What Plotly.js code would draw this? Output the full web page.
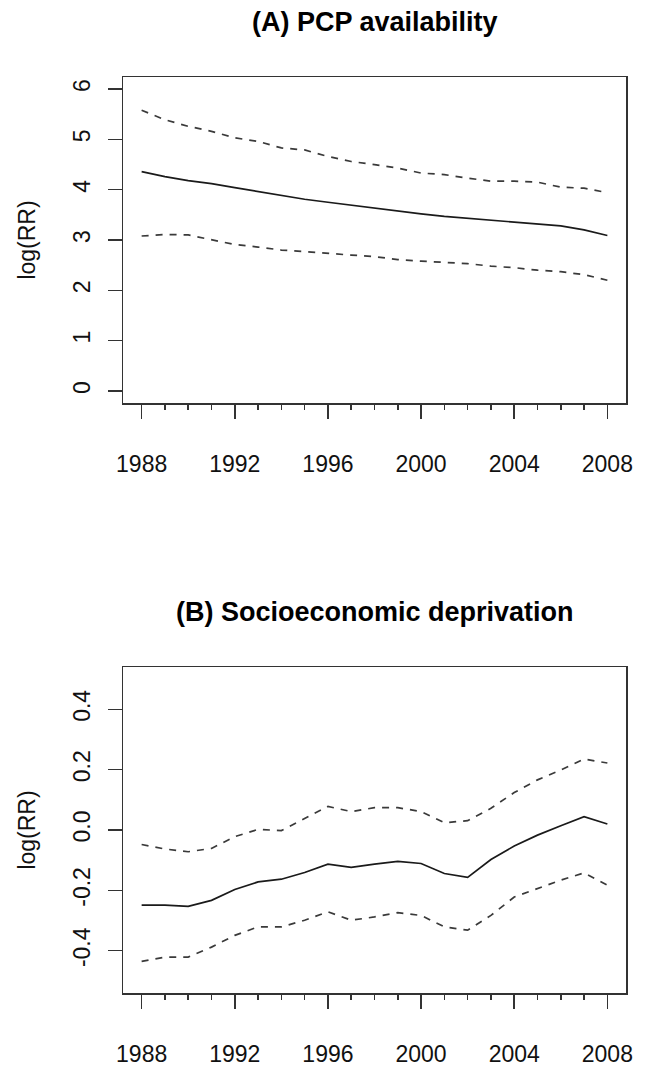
<!DOCTYPE html>
<html>
<head>
<meta charset="utf-8">
<script src="https://cdn.plot.ly/plotly-3.0.1.min.js"></script>
<style>
html,body{margin:0;padding:0;background:#fff;}
#chart{width:646px;height:1067px;}
</style>
</head>
<body>
<div id="chart"></div>
<script>
// ---- data ----
var years = [1988,1989,1990,1991,1992,1993,1994,1995,1996,1997,1998,1999,2000,2001,2002,2003,2004,2005,2006,2007,2008];

var pcpEstimate = [4.36,4.26,4.18,4.12,4.04,3.96,3.88,3.81,3.75,3.69,3.63,3.57,3.52,3.47,3.43,3.40,3.35,3.32,3.28,3.20,3.09];
var pcpUpper    = [5.58,5.39,5.26,5.16,5.03,4.96,4.83,4.79,4.66,4.56,4.50,4.43,4.33,4.30,4.23,4.17,4.17,4.15,4.05,4.03,3.94];
var pcpLower    = [3.08,3.11,3.10,3.01,2.91,2.86,2.80,2.77,2.73,2.70,2.67,2.61,2.58,2.56,2.53,2.48,2.45,2.40,2.37,2.31,2.20];

var sesEstimate = [-0.249,-0.249,-0.253,-0.233,-0.197,-0.172,-0.163,-0.141,-0.113,-0.124,-0.113,-0.104,-0.111,-0.144,-0.157,-0.098,-0.053,-0.017,0.014,0.044,0.020];
var sesUpper    = [-0.048,-0.063,-0.072,-0.061,-0.022,0.002,-0.002,0.039,0.078,0.061,0.074,0.074,0.061,0.024,0.031,0.072,0.124,0.166,0.199,0.235,0.222];
var sesLower    = [-0.435,-0.421,-0.421,-0.388,-0.349,-0.321,-0.321,-0.299,-0.271,-0.299,-0.288,-0.274,-0.283,-0.321,-0.332,-0.283,-0.222,-0.194,-0.166,-0.142,-0.183];

var xTickVals = [1988,1992,1996,2000,2004,2008];
var xTickText = ["1988","1992","1996","2000","2004","2008"];
var pcpTickVals = [0,1,2,3,4,5,6];
var pcpTickText = ["0","1","2","3","4","5","6"];
var sesTickVals = [-0.4,-0.2,0,0.2,0.4];
var sesTickText = ["-0.4","-0.2","0.0","0.2","0.4"];

var titleA = "(A) PCP availability";
var titleB = "(B) Socioeconomic deprivation";
var yTitle = "log(RR)";

// ---- styling ----
var FONT = "Liberation Sans, Arial, sans-serif";
var solid = {color:"#1a1a1a", width:1.7};
var dashed = {color:"#3a3a3a", width:1.7, dash:"7px,7px"};

function tr(x, y, line, xa, ya){
  return {x:x, y:y, type:"scatter", mode:"lines", line:line, xaxis:xa, yaxis:ya, hoverinfo:"skip", showlegend:false};
}

var data = [
  tr(years, pcpUpper, dashed, "x", "y"),
  tr(years, pcpEstimate, solid, "x", "y"),
  tr(years, pcpLower, dashed, "x", "y"),
  tr(years, sesUpper, dashed, "x2", "y2"),
  tr(years, sesEstimate, solid, "x2", "y2"),
  tr(years, sesLower, dashed, "x2", "y2")
];

var W = 646, H = 1067;
var xDom = [123/W, 626/W];

function xAxis(anchor){
  return {
    domain: xDom, anchor: anchor, range:[1987.2, 2008.8],
    tickmode:"array", tickvals: xTickVals, ticktext: xTickText,
    ticks:"outside", ticklen:14, tickwidth:1.5, tickcolor:"#333",
    minor:{dtick:1, tick0:1988, ticks:"outside", ticklen:5, tickwidth:1.5, tickcolor:"#333", showgrid:false},
    ticklabelstandoff: 26,
    showline:true, mirror:true, linecolor:"#333", linewidth:1.5,
    showgrid:false, zeroline:false,
    tickfont:{family:FONT, size:23, color:"#111"}
  };
}
function yAxis(anchor, dom, range, tv, tt){
  return {
    domain: dom, anchor: anchor, range: range,
    tickmode:"array", tickvals: tv, ticktext: tt, tickangle:-90,
    ticks:"outside", ticklen:14, tickwidth:1.5, tickcolor:"#333",
    ticklabelstandoff: 8,
    showline:true, mirror:true, linecolor:"#333", linewidth:1.5,
    showgrid:false, zeroline:false,
    tickfont:{family:FONT, size:23, color:"#111"},
    title:{text: yTitle, font:{family:FONT, size:23, color:"#111"}, standoff: 27}
  };
}

var layout = {
  width: W, height: H,
  margin:{l:0, r:0, t:0, b:0},
  paper_bgcolor:"#fff", plot_bgcolor:"#fff",
  showlegend:false,
  xaxis: xAxis("y"),
  yaxis: yAxis("x", [(H-403)/H, (H-77)/H], [-0.24, 6.24], pcpTickVals, pcpTickText),
  xaxis2: xAxis("y2"),
  yaxis2: yAxis("x2", [(H-993)/H, (H-667)/H], [-0.54, 0.54], sesTickVals, sesTickText),
  annotations:[
    {text:"<b>"+titleA+"</b>", xref:"paper", yref:"paper", x:374.5/W, y:(H-22)/H, xanchor:"center", yanchor:"middle", showarrow:false, font:{family:FONT, size:27, color:"#000"}},
    {text:"<b>"+titleB+"</b>", xref:"paper", yref:"paper", x:374.5/W, y:(H-612)/H, xanchor:"center", yanchor:"middle", showarrow:false, font:{family:FONT, size:27, color:"#000"}}
  ]
};

Plotly.newPlot("chart", data, layout, {staticPlot:true, displayModeBar:false});
</script>
</body>
</html>
